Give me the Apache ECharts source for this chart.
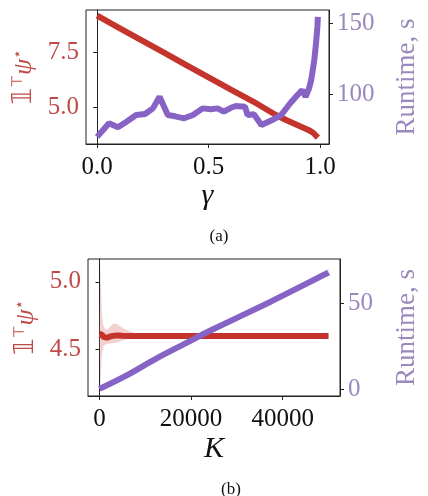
<!DOCTYPE html>
<html>
<head>
<meta charset="utf-8">
<script src="https://cdn.jsdelivr.net/npm/echarts@6/dist/echarts.min.js"></script>
<style>
  html, body { margin: 0; padding: 0; background: #fff; }
  #chart { width: 428px; height: 496px; }
</style>
</head>
<body>
<div id="chart"></div>
<script>
// (a) objective and runtime vs gamma
const gammaObj = [0, 0.1, 0.2, 0.3, 0.4, 0.5, 0.6, 0.7, 0.8, 0.85, 0.9, 0.95, 0.97, 0.99]
const objA = [9.18, 8.62, 8.06, 7.5, 6.94, 6.38, 5.82, 5.28, 4.68, 4.43, 4.2, 3.98, 3.85, 3.64]
const gammaRun = [0, 0.053, 0.093, 0.13, 0.175, 0.215, 0.25, 0.28, 0.317, 0.35, 0.39, 0.43, 0.473, 0.51,
  0.54, 0.568, 0.6, 0.622, 0.663, 0.675, 0.703, 0.737, 0.785, 0.825, 0.866, 0.89, 0.92, 0.935, 0.95,
  0.96, 0.974, 0.983, 0.988, 0.99]
const runA = [70, 79.6, 76.8, 80.5, 85.4, 86.1, 90.1, 98.3, 85.4, 84.5, 83.1, 85.4, 90.1, 89.5,
  90.1, 87.8, 90.5, 91.8, 91.3, 85.4, 86, 78.4, 81.9, 85.4, 93.7, 98, 103, 98.3, 104,
  110, 124, 138, 147.6, 154.6]

// (b) objective (mean + band) and runtime vs K
const kObj = [0, 250, 500, 800, 1200, 1600, 2000, 2500, 3000, 3500, 4000, 5000, 6500, 8000, 10000, 15000, 50000]
const objB = [4.615, 4.615, 4.61, 4.595, 4.588, 4.586, 4.59, 4.597, 4.6, 4.602, 4.602, 4.601, 4.6, 4.6, 4.6, 4.6, 4.6]
const bandLow = [4.56, 4.18, 4.45, 4.52, 4.535, 4.54, 4.542, 4.544, 4.545, 4.548, 4.552, 4.565, 4.578, 4.585, 4.59, 4.592, 4.593]
const bandHigh = [4.67, 5.14, 4.78, 4.68, 4.65, 4.645, 4.655, 4.675, 4.69, 4.69, 4.685, 4.66, 4.635, 4.62, 4.61, 4.607, 4.605]
const kRun = [0, 5630, 12280, 18900, 24000, 37150, 49750, 50000]
const runB = [0.4, 7.8, 17.8, 26.9, 33.9, 50.6, 67.4, 67.8]
const runLow = [0.2, 7.5, 17.4, 26.4, 33.3, 49.9, 66.5, 66.9]
const runHigh = [0.6, 8.3, 18.5, 27.8, 35, 52.1, 69.6, 70]

const tickA = [0, 0.5, 1.0]
const tickB = [0, 20000, 40000]

const RED = '#c4342c'
const PURPLE = '#8763c6'
const RED_TXT = '#bf4a48'
const PUR_TXT = '#9a89bd'
const SERIF = 'Liberation Serif'

const pairs = (xs, ys) => xs.map((x, i) => [x, ys[i]])

const nameRich = {
  a: { fontSize: 26, fontFamily: 'DejaVu Sans', color: RED_TXT },
  s: { fontSize: 15, fontFamily: 'DejaVu Sans', color: RED_TXT, verticalAlign: 'top', padding: [0, 0, 12, 0] },
  b: { fontSize: 26, fontFamily: SERIF, fontStyle: 'italic', color: RED_TXT }
}

function yLeft(gi, min, max, ticks, gap) {
  return {
    type: 'value', gridIndex: gi, position: 'left', min: min, max: max,
    axisLine: { show: true, lineStyle: { color: '#222' } },
    axisTick: { show: true, length: 4, lineStyle: { color: '#222' }, customValues: ticks },
    axisLabel: { fontSize: 25, fontFamily: SERIF, color: RED_TXT, margin: 7, customValues: ticks,
      formatter: v => v.toFixed(1) },
    splitLine: { show: false },
    name: '{a|𝟙}{s|⊤}{b|ψ}{s|⋆}', nameLocation: 'middle', nameRotate: 90, nameGap: gap,
    nameTextStyle: { rich: nameRich }
  }
}

function yRight(gi, min, max, ticks, gap) {
  return {
    type: 'value', gridIndex: gi, position: 'right', min: min, max: max,
    axisLine: { show: true, lineStyle: { color: '#222' } },
    axisTick: { show: true, length: 4, lineStyle: { color: '#222' }, customValues: ticks },
    axisLabel: { fontSize: 25, fontFamily: SERIF, color: PUR_TXT, margin: 8, customValues: ticks },
    splitLine: { show: false },
    name: 'Runtime, s', nameLocation: 'middle', nameRotate: 90, nameGap: gap,
    nameTextStyle: { fontSize: 27, fontFamily: SERIF, color: PUR_TXT }
  }
}

function xAxis(gi, min, max, ticks, name, fmt, gap) {
  return {
    type: 'value', gridIndex: gi, min: min, max: max,
    axisLine: { show: true, onZero: false, lineStyle: { color: '#222' } },
    axisTick: { show: true, length: 4, lineStyle: { color: '#222' }, customValues: ticks },
    axisLabel: { fontSize: 25, fontFamily: SERIF, color: '#111', margin: 11, customValues: ticks, formatter: fmt },
    splitLine: { show: false },
    name: name, nameLocation: 'middle', nameGap: gap,
    nameTextStyle: { fontSize: 30, fontFamily: SERIF, fontStyle: 'italic', color: '#111' }
  }
}

// shaded band drawn once as a polygon through the axes' coordinates
function band(xi, yi, xs, lo, hi, fill) {
  return {
    type: 'custom', xAxisIndex: xi, yAxisIndex: yi, clip: true, z: 1, silent: true,
    data: xs.map((x, i) => [x, lo[i], hi[i]]),
    renderItem: function (params, api) {
      if (params.dataIndex !== 0) return null
      const pts = []
      for (let i = 0; i < xs.length; i++) pts.push(api.coord([xs[i], lo[i]]))
      for (let i = xs.length - 1; i >= 0; i--) pts.push(api.coord([xs[i], hi[i]]))
      return { type: 'polygon', shape: { points: pts }, style: { fill: fill } }
    }
  }
}

const chart = echarts.init(document.getElementById('chart'))
chart.setOption({
  animation: false,
  title: [
    { text: '(a)', left: 214, top: 223, textAlign: 'center',
      textStyle: { fontSize: 17, fontWeight: 'normal', fontFamily: SERIF, color: '#111' } },
    { text: '(b)', left: 226, top: 476, textAlign: 'center',
      textStyle: { fontSize: 17, fontWeight: 'normal', fontFamily: SERIF, color: '#111' } }
  ],
  grid: [
    { left: 86, top: 10, width: 266, height: 134, show: true, borderColor: '#222', borderWidth: 1 },
    { left: 88, top: 259, width: 275, height: 137, show: true, borderColor: '#222', borderWidth: 1 }
  ],
  xAxis: [
    xAxis(0, -0.05, 1.04, tickA, 'γ', v => v.toFixed(1), 36),
    xAxis(1, -2500, 52500, tickB, 'K', v => String(v), 38)
  ],
  yAxis: [
    yLeft(0, 3.35, 9.44, [5.0, 7.5], 48),
    yRight(0, 65, 159.4, [100, 150], 64),
    yLeft(1, 4.155, 5.169, [4.5, 5.0], 48),
    yRight(1, -3.7, 75.6, [0, 50], 53)
  ],
  series: [
    { type: 'line', xAxisIndex: 0, yAxisIndex: 0, data: pairs(gammaObj, objA), showSymbol: false,
      lineStyle: { color: RED, width: 6 }, z: 3 },
    { type: 'line', xAxisIndex: 0, yAxisIndex: 1, data: pairs(gammaRun, runA), showSymbol: false,
      lineStyle: { color: PURPLE, width: 6 }, z: 4 },
    band(1, 2, kObj, bandLow, bandHigh, 'rgba(222,140,135,0.4)'),
    { type: 'line', xAxisIndex: 1, yAxisIndex: 2, data: pairs(kObj, objB), showSymbol: false,
      lineStyle: { color: RED, width: 6 }, z: 3 },
    band(1, 3, kRun, runLow, runHigh, 'rgba(180,150,230,0.35)'),
    { type: 'line', xAxisIndex: 1, yAxisIndex: 3, data: pairs(kRun, runB), showSymbol: false,
      smooth: 0.3, lineStyle: { color: PURPLE, width: 6 }, z: 4 }
  ]
})
</script>
</body>
</html>
